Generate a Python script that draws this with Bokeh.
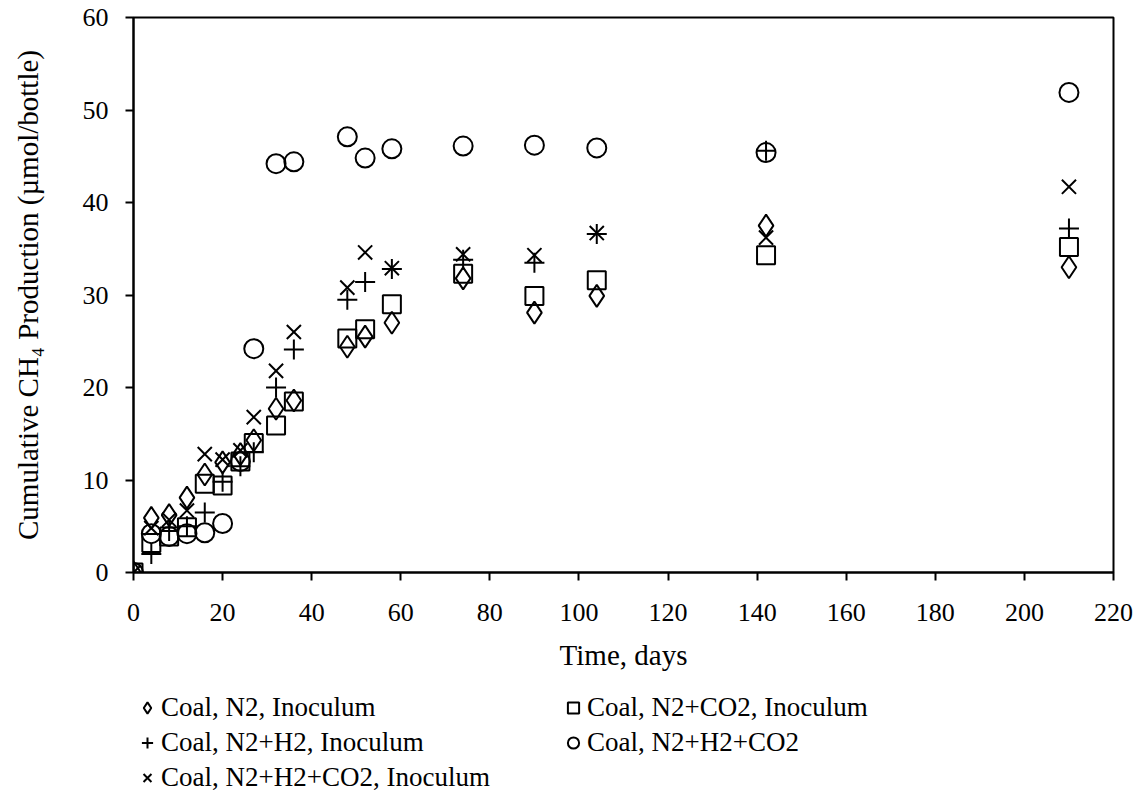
from bokeh.plotting import figure
from bokeh.layouts import column
from bokeh.models import Legend, LegendItem, Range1d, FixedTicker
from bokeh.embed import file_html
from bokeh.resources import INLINE

days = [0, 4, 8, 12, 16, 20, 24, 27, 32, 36, 48, 52, 58, 74, 90, 104, 142, 210]

n2_inoc = [0, 5.9, 6.2, 8.1, 10.6, 11.9, 12.8, 14.3, 17.7, 18.6, 24.4, 25.5, 27.0, 31.8, 28.1, 29.9, 37.5, 33.0]
n2co2_inoc = [0, 3.2, 3.9, 4.9, 9.6, 9.4, 12.0, 14.0, 15.9, 18.5, 25.3, 26.3, 29.0, 32.3, 29.9, 31.6, 34.3, 35.2]
n2h2_inoc = [0, 2.0, 4.5, 5.0, 6.5, 9.8, 11.5, 13.0, 20.0, 24.1, 29.5, 31.4, 32.8, 33.8, 33.5, 36.6, 45.6, 37.2]
n2h2co2 = [0, 4.2, 3.9, 4.2, 4.3, 5.3, 12.0, 24.2, 44.2, 44.4, 47.1, 44.8, 45.8, 46.1, 46.2, 45.9, 45.4, 51.9]
n2h2co2_inoc = [0, 4.8, 5.7, 6.7, 12.8, 12.2, 13.2, 16.8, 21.8, 26.0, 30.8, 34.6, 32.9, 34.4, 34.3, 36.7, 36.2, 41.7]

labels = ["Coal, N2, Inoculum", "Coal, N2+CO2, Inoculum", "Coal, N2+H2, Inoculum",
          "Coal, N2+H2+CO2", "Coal, N2+H2+CO2, Inoculum"]
markers = ["diamond", "square", "cross", "circle", "x"]
series = [n2_inoc, n2co2_inoc, n2h2_inoc, n2h2co2, n2h2co2_inoc]
sizes = [22, 18, 20, 19, 20]

FONT = "Liberation Serif"

# main chart
p = figure(width=1146, height=685, output_backend="svg", toolbar_location=None,
           x_range=Range1d(0, 220), y_range=Range1d(0, 60),
           min_border_left=133, min_border_right=33, min_border_top=17, min_border_bottom=113)
p.background_fill_color = "white"
p.border_fill_color = "white"
p.outline_line_color = "black"
p.outline_line_width = 2
p.xgrid.visible = False
p.ygrid.visible = False

for ax in (p.xaxis[0], p.yaxis[0]):
    ax.axis_line_width = 2
    ax.axis_line_color = "black"
    ax.major_tick_line_width = 2
    ax.major_tick_in = 0
    ax.major_tick_out = 8
    ax.minor_tick_line_color = None
    ax.major_label_text_font = FONT
    ax.major_label_text_font_size = "26px"
    ax.major_label_text_color = "black"
    ax.axis_label_text_font = FONT
    ax.axis_label_text_font_size = "29px"
    ax.axis_label_text_font_style = "normal"
    ax.axis_label_text_color = "black"

p.xaxis.ticker = FixedTicker(ticks=list(range(0, 221, 20)))
p.yaxis.ticker = FixedTicker(ticks=list(range(0, 61, 10)))
p.xaxis.axis_label = "Time, days"
p.yaxis.axis_label = "Cumulative CH\u2084 Production (\u00b5mol/bottle)"
p.xaxis.major_label_standoff = 23
p.yaxis.major_label_standoff = 17
p.xaxis.axis_label_standoff = 15
p.yaxis.axis_label_standoff = 36

for mk, ys, sz in zip(markers, series, sizes):
    p.scatter(days, ys, marker=mk, size=sz, fill_color=None,
              line_color="black", line_width=2)

# legend strip below the chart (its view range lies above the data, so only the legend keys show)
lg = figure(width=1146, height=109, output_backend="svg", toolbar_location=None,
            x_range=Range1d(0, 220), y_range=Range1d(1000, 1001),
            x_axis_location=None, y_axis_location=None, min_border=0)
lg.outline_line_color = None
lg.xgrid.visible = False
lg.ygrid.visible = False
lg.background_fill_color = "white"
lg.border_fill_color = "white"

items = []
for lab, mk, ys in zip(labels, markers, series):
    r = lg.scatter(days, ys, marker=mk, size=12, fill_color=None,
                   line_color="black", line_width=2)
    items.append(LegendItem(label=lab, renderers=[r]))

legend = Legend(items=items, orientation="horizontal", ncols=2, location=(0, 1),
                label_text_font=FONT, label_text_font_size="27px", label_text_color="black",
                glyph_width=28, glyph_height=31, label_standoff=0,
                label_width=394, label_height=31, spacing=4, padding=0,
                margin=0, border_line_color=None, background_fill_alpha=0)
lg.add_layout(legend)

open("out.html", "w").write(file_html(column(p, lg), INLINE))
